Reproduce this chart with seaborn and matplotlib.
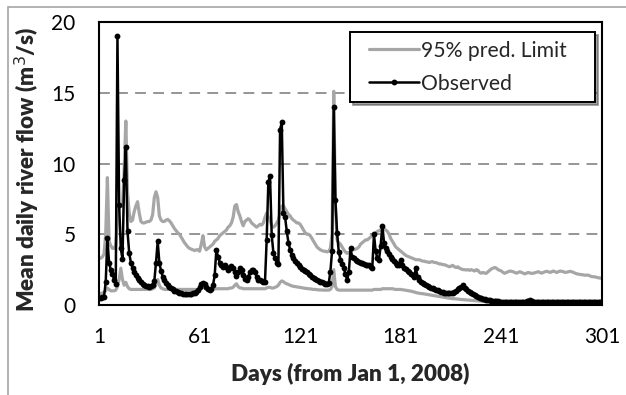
import numpy as np
import pandas as pd
import matplotlib
matplotlib.use("Agg")
import matplotlib.pyplot as plt
import seaborn as sns
from matplotlib.patches import Rectangle
from matplotlib.lines import Line2D
from matplotlib.legend_handler import HandlerLine2D

# Daily mean river flow (m3/s), day 1 = Jan 1, 2008
observed = [
    0.5, 0.5, 0.55, 0.6, 1.6, 4.7, 3.0, 2.5, 2.2, 1.8,
    1.5, 19.0, 7.1, 4.0, 3.25, 8.8, 11.2, 5.2, 3.7, 3.0,
    2.6, 2.3, 2.1, 1.9, 1.75, 1.6, 1.5, 1.42, 1.36, 1.32,
    1.3, 1.32, 1.4, 1.7, 3.0, 4.5, 3.0, 2.4, 2.0, 1.75,
    1.55, 1.4, 1.28, 1.18, 1.1, 1.02, 0.96, 0.9, 0.86, 0.83,
    0.8, 0.78, 0.77, 0.76, 0.76, 0.78, 0.82, 0.88, 0.95, 1.05,
    1.25, 1.45, 1.55, 1.5, 1.3, 1.15, 1.05, 1.1, 1.4, 2.1,
    3.9, 3.4, 3.0, 2.8, 2.7, 2.8, 2.7, 2.5, 2.6, 2.75,
    2.6, 2.3, 2.05, 2.3, 2.6, 2.5, 2.1, 1.85, 1.8, 2.0,
    2.3, 2.45, 2.5, 2.3, 2.0, 1.8, 1.75, 1.7, 1.65, 1.65,
    4.6, 8.7, 9.1, 4.95, 3.7, 3.3, 3.0, 2.9, 12.4, 12.9,
    6.5, 6.2, 5.2, 4.4, 3.9, 3.55, 3.3, 3.1, 2.95, 2.8,
    2.68, 2.57, 2.47, 2.38, 2.3, 2.2, 2.1, 2.0, 1.92, 1.85,
    1.8, 1.72, 1.66, 1.6, 1.55, 1.5, 1.48, 1.53, 2.35, 3.8,
    14.0, 7.4, 5.07, 3.77, 3.2, 2.9, 2.6, 2.2, 1.8, 2.3,
    4.0, 3.4, 3.3, 3.2, 3.1, 3.05, 3.0, 2.95, 2.9, 2.85,
    2.85, 2.8, 2.7, 2.65, 5.0, 3.8, 3.3, 3.2, 4.2, 5.6,
    4.4, 4.0, 3.8, 3.6, 3.4, 3.25, 3.1, 2.95, 2.85, 2.8,
    3.2, 2.8, 2.65, 2.55, 2.4, 2.3, 2.2, 2.1, 2.0, 2.6,
    2.0, 1.8, 1.65, 1.55, 1.45, 1.38, 1.32, 1.27, 1.22, 1.18,
    1.13, 1.08, 1.03, 0.98, 0.94, 0.9, 0.87, 0.84, 0.82, 0.82,
    0.85, 0.88, 0.92, 1.0, 1.1, 1.2, 1.3, 1.4, 1.2, 1.1,
    1.0, 0.95, 0.88, 0.8, 0.72, 0.65, 0.58, 0.52, 0.47, 0.43,
    0.4, 0.37, 0.34, 0.32, 0.3, 0.28, 0.27, 0.26, 0.25, 0.24,
    0.23, 0.22, 0.22, 0.21, 0.21, 0.2, 0.2, 0.21, 0.22, 0.2,
    0.19, 0.2, 0.21, 0.2, 0.22, 0.25, 0.3, 0.32, 0.26, 0.22,
    0.2, 0.19, 0.2, 0.21, 0.2, 0.19, 0.2, 0.22, 0.21, 0.2,
    0.19, 0.2, 0.21, 0.22, 0.2, 0.19, 0.2, 0.21, 0.23, 0.22,
    0.2, 0.19, 0.2, 0.2, 0.21, 0.2, 0.19, 0.2, 0.21, 0.2,
    0.2, 0.19, 0.2, 0.21, 0.2, 0.19, 0.2, 0.2, 0.21, 0.2,
    0.2,
]

# Upper bound of the 95% prediction interval
upper_limit = [
    3.3, 3.3, 3.4, 3.6, 5.0, 9.0, 4.5, 4.2, 4.0, 4.0,
    4.2, 6.0, 7.0, 7.0, 7.0, 9.5, 13.0, 8.0, 6.5, 5.9,
    6.0, 6.6, 7.0, 7.3, 6.5, 5.9, 5.8, 5.8, 5.85, 5.9,
    5.9, 6.0, 6.4, 7.6, 8.0, 7.6, 6.3, 6.0, 5.9, 5.9,
    6.0, 6.05, 5.95, 5.8, 5.6, 5.4, 5.25, 5.1, 5.0, 4.8,
    4.6, 4.4, 4.25, 4.1, 4.0, 3.95, 3.9, 3.85, 3.9, 3.9,
    3.8, 4.3, 4.9, 4.1, 3.9, 4.0, 4.1, 4.2, 4.3, 4.5,
    4.6, 4.7, 4.9, 5.0, 5.1, 5.2, 5.3, 5.5, 5.6, 5.8,
    6.2, 7.0, 7.1, 6.6, 6.3, 5.9, 5.6, 5.9, 6.0, 6.1,
    6.0, 5.8, 5.7, 5.6, 5.5, 5.6, 5.7, 5.65, 5.8, 6.2,
    6.5, 6.2, 6.0, 5.6, 5.5, 5.6, 5.8, 6.0, 6.5, 7.0,
    7.0, 6.8, 6.6, 6.4, 6.3, 6.1, 6.0, 5.9, 5.8, 5.8,
    5.7, 5.5, 5.3, 5.1, 5.0, 5.0, 4.9, 4.7, 4.5, 4.3,
    4.1, 4.0, 3.9, 3.85, 3.8, 3.8, 3.75, 3.8, 4.0, 5.0,
    15.1, 7.0, 4.6, 4.4, 4.3, 4.1, 3.9, 3.75, 3.65, 3.7,
    3.8, 3.9, 3.9, 3.95, 4.0, 4.1, 4.3, 4.4, 4.5, 4.6,
    4.6, 4.7, 4.8, 4.9, 5.0, 5.1, 5.2, 5.25, 5.3, 5.4,
    5.4, 5.3, 5.2, 5.0, 4.7, 4.5, 4.3, 4.1, 4.0, 3.9,
    3.8, 3.7, 3.6, 3.5, 3.45, 3.4, 3.35, 3.3, 3.25, 3.2,
    3.2, 3.2, 3.15, 3.1, 3.1, 3.05, 3.05, 3.0, 3.05, 3.06,
    3.0, 3.0, 2.95, 2.9, 2.9, 2.85, 2.85, 2.8, 2.75, 2.7,
    2.75, 2.8, 2.7, 2.65, 2.7, 2.6, 2.55, 2.5, 2.5, 2.47,
    2.5, 2.45, 2.5, 2.45, 2.4, 2.5, 2.45, 2.3, 2.25, 2.3,
    2.25, 2.24, 2.35, 2.45, 2.55, 2.6, 2.65, 2.6, 2.5, 2.45,
    2.4, 2.3, 2.24, 2.3, 2.35, 2.4, 2.38, 2.35, 2.3, 2.25,
    2.3, 2.35, 2.3, 2.25, 2.2, 2.25, 2.3, 2.26, 2.24, 2.24,
    2.28, 2.32, 2.35, 2.3, 2.25, 2.3, 2.35, 2.38, 2.35, 2.3,
    2.35, 2.4, 2.35, 2.3, 2.35, 2.4, 2.38, 2.35, 2.3, 2.32,
    2.35, 2.38, 2.35, 2.3, 2.25, 2.2, 2.18, 2.15, 2.15, 2.12,
    2.1, 2.12, 2.1, 2.05, 2.0, 2.0, 1.98, 1.95, 1.92, 1.9,
    1.9,
]

# Lower bound of the 95% prediction interval
lower_limit = [
    0.8, 0.8, 0.85, 0.9, 1.0, 1.2, 1.1, 1.0, 1.0, 1.0,
    1.05, 1.3, 1.8, 2.6, 1.8, 1.4, 1.6, 1.3, 1.15, 1.1,
    1.1, 1.1, 1.1, 1.1, 1.1, 1.1, 1.1, 1.1, 1.1, 1.1,
    1.1, 1.1, 1.15, 1.2, 1.5, 1.8, 1.4, 1.2, 1.15, 1.1,
    1.1, 1.1, 1.1, 1.1, 1.1, 1.1, 1.1, 1.1, 1.1, 1.1,
    1.1, 1.1, 1.1, 1.1, 1.1, 1.1, 1.1, 1.1, 1.1, 1.1,
    1.1, 1.2, 1.4, 1.2, 1.1, 1.1, 1.1, 1.1, 1.1, 1.15,
    1.15, 1.15, 1.15, 1.15, 1.15, 1.15, 1.15, 1.15, 1.2, 1.2,
    1.25, 1.4, 1.5, 1.3, 1.2, 1.2, 1.15, 1.15, 1.15, 1.15,
    1.15, 1.15, 1.15, 1.15, 1.15, 1.15, 1.15, 1.15, 1.15, 1.15,
    1.2, 1.25, 1.25, 1.2, 1.2, 1.25, 1.3, 1.4, 1.6, 1.7,
    1.65, 1.55, 1.5, 1.45, 1.4, 1.35, 1.32, 1.3, 1.28, 1.26,
    1.24, 1.22, 1.2, 1.18, 1.16, 1.15, 1.14, 1.12, 1.1, 1.1,
    1.08, 1.07, 1.06, 1.06, 1.05, 1.05, 1.05, 1.05, 1.1, 1.3,
    2.5, 1.3, 1.1, 1.05, 1.05, 1.05, 1.05, 1.05, 1.05, 1.05,
    1.05, 1.05, 1.05, 1.05, 1.05, 1.05, 1.05, 1.05, 1.05, 1.05,
    1.05, 1.05, 1.05, 1.05, 1.1, 1.1, 1.1, 1.1, 1.1, 1.15,
    1.15, 1.15, 1.15, 1.15, 1.15, 1.15, 1.12, 1.1, 1.1, 1.1,
    1.1, 1.08, 1.06, 1.04, 1.02, 1.0, 0.98, 0.95, 0.92, 0.88,
    0.85, 0.83, 0.81, 0.8, 0.78, 0.76, 0.74, 0.72, 0.7, 0.68,
    0.66, 0.64, 0.62, 0.6, 0.58, 0.56, 0.54, 0.52, 0.5, 0.48,
    0.46, 0.45, 0.44, 0.43, 0.42, 0.4, 0.39, 0.38, 0.37, 0.36,
    0.35, 0.34, 0.33, 0.32, 0.31, 0.3, 0.29, 0.28, 0.27, 0.26,
    0.25, 0.24, 0.23, 0.22, 0.21, 0.2, 0.19, 0.18, 0.17, 0.17,
    0.16, 0.16, 0.15, 0.15, 0.15, 0.14, 0.14, 0.14, 0.13, 0.13,
    0.13, 0.13, 0.12, 0.12, 0.12, 0.12, 0.12, 0.12, 0.12, 0.12,
    0.12, 0.12, 0.12, 0.12, 0.12, 0.12, 0.12, 0.12, 0.12, 0.12,
    0.12, 0.12, 0.12, 0.12, 0.12, 0.12, 0.12, 0.12, 0.12, 0.12,
    0.12, 0.12, 0.12, 0.12, 0.12, 0.12, 0.12, 0.12, 0.12, 0.12,
    0.12, 0.12, 0.12, 0.12, 0.12, 0.12, 0.12, 0.12, 0.12, 0.12,
    0.12,
]

days = np.arange(1, len(observed) + 1)
x_ticks = [1, 61, 121, 181, 241, 301]
y_ticks = [0, 5, 10, 15, 20]

df = pd.DataFrame({"day": days, "observed": observed,
                   "upper": upper_limit, "lower": lower_limit})

sns.set_theme(style="white")
plt.rcParams["font.family"] = ["Lato", "DejaVu Sans"]

W, H = 626, 395
fig = plt.figure(figsize=(W / 100, H / 100), dpi=100)
ax = fig.add_axes([99 / W, 1 - 305 / H, 503 / W, 283 / H])

# Outer chart frame (light grey)
fig.patches.append(Rectangle((8 / W, -0.1), 1.2, 1 - 7 / H + 0.1,
                             transform=fig.transFigure, fill=False,
                             edgecolor="#a6a6a6", linewidth=1.2))

grey = "#a6a6a6"
sns.lineplot(data=df, x="day", y="upper", ax=ax, color=grey, lw=2.3,
             label="95% pred. Limit", zorder=2)
sns.lineplot(data=df, x="day", y="lower", ax=ax, color=grey, lw=2.3,
             label="_nolegend_", zorder=2)
sns.lineplot(data=df, x="day", y="observed", ax=ax, color="black", lw=1.8,
             marker="o", markersize=4.2, markeredgewidth=0,
             label="Observed", zorder=3)

ax.set_xlim(1, 301)
ax.set_ylim(0, 20)
ax.set_xticks(x_ticks)
ax.set_yticks(y_ticks)
ax.tick_params(axis="both", which="both", direction="out",
               width=1.3, color="black", labelsize=15, labelcolor="black")
ax.tick_params(axis="y", length=5.8, pad=11)
ax.tick_params(axis="x", length=4.5, pad=11)

for y in [5, 10, 15]:
    ax.axhline(y, color="#8c8c8c", lw=1.3, ls=(0, (6, 4)), zorder=1)

for s in ax.spines.values():
    s.set_color("black")
    s.set_linewidth(1.5)
    s.set_visible(True)

ax.set_xlabel("Days (from Jan 1, 2008)", fontsize=16.2, fontweight="heavy")
ax.xaxis.set_label_coords(0.5, (305 - 374) / 283)
ax.xaxis.label.set_va("center")
ax.set_ylabel("Mean daily river flow (m$^3$/s)", fontsize=16.2,
              fontweight="heavy")
ax.yaxis.set_label_coords((27 - 99) / 503, (305 - 169) / 283)
ax.yaxis.label.set_va("center")

# Legend: box spans a fixed width; handles are inset from the left edge
handles, labels = ax.get_legend_handles_labels()
leg_box = ((350 - 99) / 503, (305 - 103) / 283, 245 / 503, 71 / 283)
leg = ax.legend(handles, labels, loc="upper left", bbox_to_anchor=leg_box,
                mode="expand", frameon=True, fancybox=False, shadow=True,
                fontsize=15.2, handlelength=2.85, handletextpad=0.1,
                borderpad=0.42, labelspacing=0.6, borderaxespad=0,
                numpoints=1,
                handler_map={Line2D: HandlerLine2D(xpad=0.5)})
leg.get_frame().set_edgecolor("black")
leg.get_frame().set_linewidth(1.4)

fig.savefig("out.png", dpi=100)
